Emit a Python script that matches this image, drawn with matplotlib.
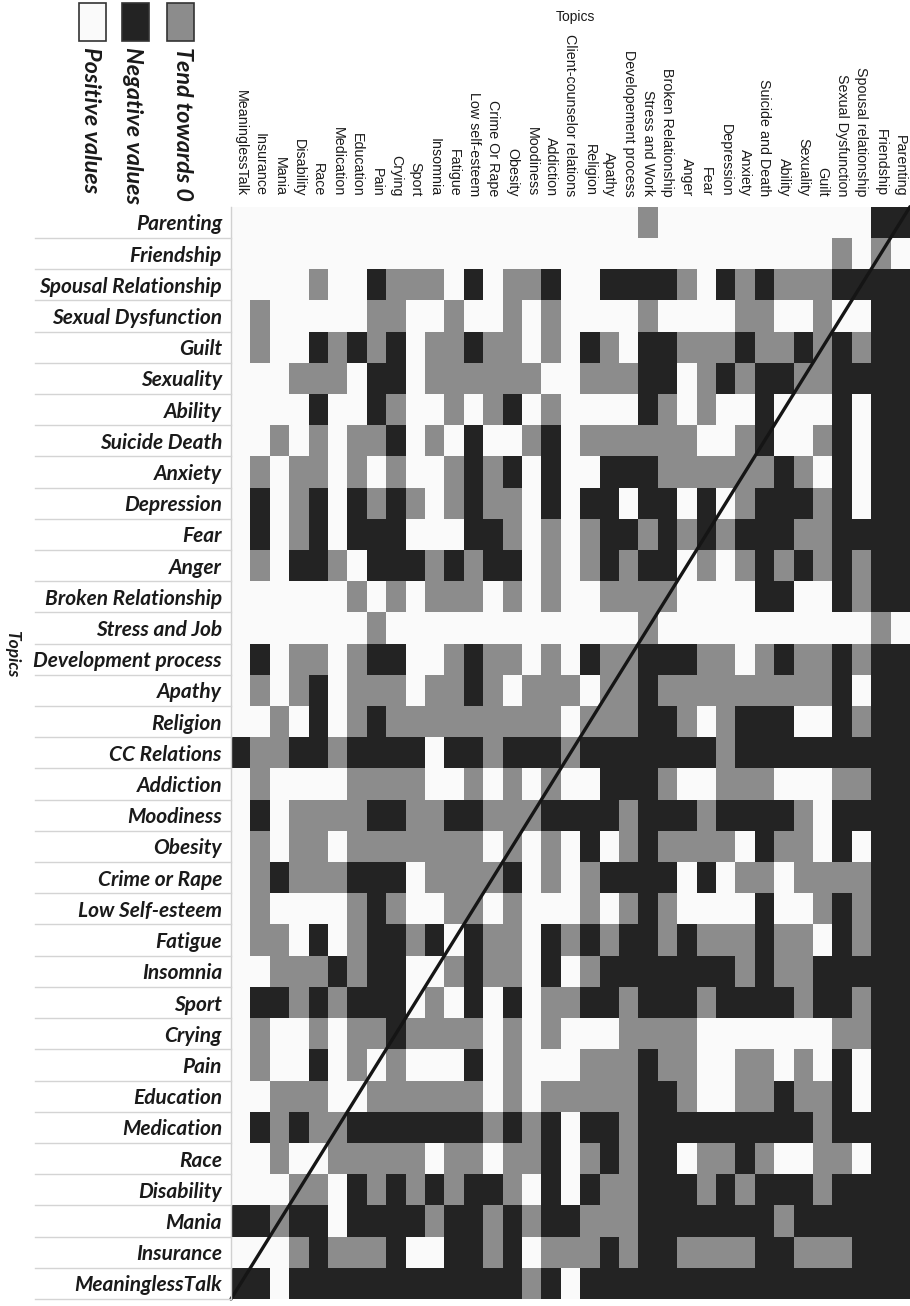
"""
Topic relation matrix: sign of the relation between each pair of counselling topics.
"""

import numpy as np
import matplotlib
matplotlib.use('Agg')
import matplotlib.pyplot as plt
from matplotlib.colors import ListedColormap
from matplotlib.lines import Line2D
from matplotlib.patches import Rectangle

# rows, top to bottom
ROW_TOPICS = [
    'Parenting', 'Friendship', 'Spousal Relationship', 'Sexual Dysfunction', 'Guilt',
    'Sexuality', 'Ability', 'Suicide Death', 'Anxiety', 'Depression', 'Fear', 'Anger',
    'Broken Relationship', 'Stress and Job', 'Development process', 'Apathy', 'Religion',
    'CC Relations', 'Addiction', 'Moodiness', 'Obesity', 'Crime or Rape',
    'Low Self-esteem', 'Fatigue', 'Insomnia', 'Sport', 'Crying', 'Pain', 'Education',
    'Medication', 'Race', 'Disability', 'Mania', 'Insurance', 'MeaninglessTalk',
]

# columns, left to right
COL_TOPICS = [
    'MeaninglessTalk', 'Insurance', 'Mania', 'Disability', 'Race', 'Medication',
    'Education', 'Pain', 'Crying', 'Sport', 'Insomnia', 'Fatigue', 'Low self-esteem',
    'Crime Or Rape', 'Obesity', 'Moodiness', 'Addiction', 'Client-counselor relations',
    'Religion', 'Apathy', 'Developement process', 'Stress and Work',
    'Broken Relationship', 'Anger', 'Fear', 'Depression', 'Anxiety',
    'Suicide and Death', 'Ability', 'Sexuality', 'Guilt', 'Sexual Dysfunction',
    'Spousal relationship', 'Friendship', 'Parenting',
]

# P = positive, N = negative, Z = tends towards 0 (blocks of 5 columns)
RELATIONS = [
    "PPPPP PPPPP PPPPP PPPPP PZPPP PPPPP PPPNN",  # Parenting
    "PPPPP PPPPP PPPPP PPPPP PPPPP PPPPP PZPZP",  # Friendship
    "PPPPZ PPNZZ ZPNPZ ZNPPN NNNZP NZNZZ ZNNNN",  # Spousal Relationship
    "PZPPP PPZZP PZPPZ PZPPP PZPPP PZZPP ZPPNN",  # Sexual Dysfunction
    "PZPPN ZNZNP ZZNZZ PZPNZ PNNZZ ZNZZN ZNZNN",  # Guilt
    "PPPZZ ZPNNP ZZZZZ ZPPZZ ZNNPZ NZNNZ ZNNNN",  # Sexuality
    "PPPPN PPNZP PZPZN PZPPP PNZPZ PPNPP PNPNN",  # Ability
    "PPZPZ PZZNP ZPNPP ZNPZZ ZZZZP PZNPP ZNPNN",  # Suicide Death
    "PZPZZ PZPZP PZNZN PNPPN NNZZZ ZZZNZ PNPNN",  # Anxiety
    "PNPZN PNZNZ PZNZZ PNPNN PNNPN PZNNN ZNPNN",  # Depression
    "PNPZN PNNNP PPNNZ PZPZN NZNZN ZNNNZ ZNNNN",  # Fear
    "PZPNN ZPNNN ZNZNN PZPZN ZNNPZ PZNZN ZNZNN",  # Anger
    "PPPPP PZPZP ZZZPZ PZPPZ ZZZPP PPNNP PNZNN",  # Broken Relationship
    "PPPPP PPZPP PPPPP PPPPP PZPPP PPPPP PPPZP",  # Stress and Job
    "PNPZZ PZNNP PZNZZ PZPNZ ZNNNZ ZPZNZ ZNZNN",  # Development process
    "PZPZN PZZZP ZZNZP ZZZPZ ZNZZZ ZZZZZ ZNPNN",  # Apathy
    "PPZPN PZNZZ ZZZZZ ZZPZZ ZNNZP ZNNNP PNZNN",  # Religion
    "NZZNN ZNNNN PNNZN NNZNN NNNNN ZNNNN NNNNN",  # CC Relations
    "PZPPP PZZZZ PPZPZ PZPPN NNZPP ZZZPP PZZNN",  # Addiction
    "PNPZZ ZZNNZ ZNNZZ ZNNNN ZNNNZ NNNNZ PNNNN",  # Moodiness
    "PZPZZ PZZZZ ZZZPZ PZPNP ZNZZZ ZPNZZ PNPNN",  # Obesity
    "PZNZZ ZNNNP ZZZZN PZPZN NNNPN PZZPZ ZZZNN",  # Crime or Rape
    "PZPPP PZNZP PZZPZ PPPZP ZNZPP PPNPP ZNZNN",  # Low Self-esteem
    "PZZPN PZNNZ NPNZZ PNZNZ NNZNZ ZZNZZ PNZNN",  # Fatigue
    "PPZZZ NZNNP PZNZZ PNPZN NNNNN NZNZZ NNNNN",  # Insomnia
    "PNNZN ZNNNP ZPNPN PZZNN ZNNNZ NNNNZ NNZNN",  # Sport
    "PZPPZ PZZNZ ZZZPZ PZPPP ZZZZP PPPPP PZZNN",  # Crying
    "PZPPN PZPZP PPNPZ PPPZZ ZNZZP PZZPZ PNPNN",  # Pain
    "PPZZZ PPZZZ ZZZPZ PZZZZ ZNNZP PZZNZ ZNPNN",  # Education
    "PNZNZ ZNNNN NNNZN ZNPNN ZNNNN NNNNN ZNNNN",  # Medication
    "PPZPP ZZZZZ PZZPZ ZNPZN ZNNPZ ZNZPP ZZPNN",  # Race
    "PPPZZ PNZNZ NZNNZ PNPNZ ZNNNZ NZNNN ZNNNN",  # Disability
    "NNZNN PNNNN ZNNZN ZNNZZ ZNNNN NNNZN NNNNN",  # Mania
    "PPPZN ZZZNP PNNZN PZZZN ZNNZZ ZZNNZ ZZNNN",  # Insurance
    "NNPNN NNNNN NNNNN ZNPNN NNNNN NNNNN NNNNN",  # MeaninglessTalk
]

LEGEND_LABELS = ['Positive values', 'Negative values', 'Tend towards 0']
CODES = ['P', 'N', 'Z']
COLORS = ['#fafafa', '#232323', '#8c8c8c']

W, H = 910, 1306
GRID_LEFT, GRID_RIGHT, GRID_TOP, GRID_BOTTOM = 231, 910, 206.7, 1299


def fx(px):
    return px / W


def fy(py):
    return 1 - py / H


LABEL_FONT = dict(family=['Lato', 'DejaVu Sans'], weight='bold', style='italic')

grid = np.array([[CODES.index(ch) for ch in row.replace(' ', '')] for row in RELATIONS])
n_rows, n_cols = grid.shape

fig = plt.figure(figsize=(W / 100, H / 100), dpi=100)
ax = fig.add_axes([fx(GRID_LEFT), fy(GRID_BOTTOM),
                   (GRID_RIGHT - GRID_LEFT) / W, (GRID_BOTTOM - GRID_TOP) / H])
ax.pcolormesh(np.arange(n_cols + 1), np.arange(n_rows + 1), grid,
              cmap=ListedColormap(COLORS), vmin=-0.5, vmax=2.5)
ax.set_xlim(0, n_cols)
ax.set_ylim(n_rows, 0)

# diagonal from the bottom-left corner to the top-right corner
ax.plot([0, n_cols], [n_rows, 0], color='#151515', lw=2.4, clip_on=False,
        solid_capstyle='round')

ax.set_xticks([])
ax.set_yticks(np.arange(n_rows) + 0.5)
ax.set_yticklabels(ROW_TOPICS, fontsize=15, **LABEL_FONT)
ax.tick_params(axis='y', length=0, pad=6.5, colors='#1a1a1a')
for side in ['top', 'right', 'bottom']:
    ax.spines[side].set_visible(False)
ax.spines['left'].set_color('#d0d0d0')
ax.spines['left'].set_linewidth(1)

# thin separators under each row label
row_h = (GRID_BOTTOM - GRID_TOP) / n_rows
for k in range(1, n_rows + 1):
    y = fy(GRID_TOP + k * row_h)
    fig.add_artist(Line2D([fx(35), fx(GRID_LEFT)], [y, y], color='#d4d4d4', lw=1))

# column labels, read top to bottom, ending just above the grid
for j, name in enumerate(COL_TOPICS):
    ax.text(j + 0.5, -0.33, name, rotation=-90, ha='center', va='bottom',
            fontsize=10.3, family='Liberation Sans', color='#1a1a1a')

fig.text(fx(575), fy(17), 'Topics', ha='center', va='center', fontsize=10,
         family='Liberation Sans', color='#1a1a1a')
fig.text(fx(12), fy(654), 'Topics', rotation=-90, ha='center', va='center',
         fontsize=12.5, color='#1a1a1a', **LABEL_FONT)

# legend: colour swatches with rotated captions underneath
for left, color, label, tx in zip([79, 122, 167], COLORS, LEGEND_LABELS, [90, 132, 182]):
    fig.add_artist(Rectangle((fx(left), fy(41)), 27 / W, 38 / H, transform=fig.transFigure,
                             facecolor=color, edgecolor='#333333', lw=1.2))
    fig.text(fx(tx), fy(47), label, rotation=-90, ha='center', va='top',
             fontsize=16.8, color='#1a1a1a', **LABEL_FONT)

fig.savefig('out.png', dpi=100)
plt.close(fig)
